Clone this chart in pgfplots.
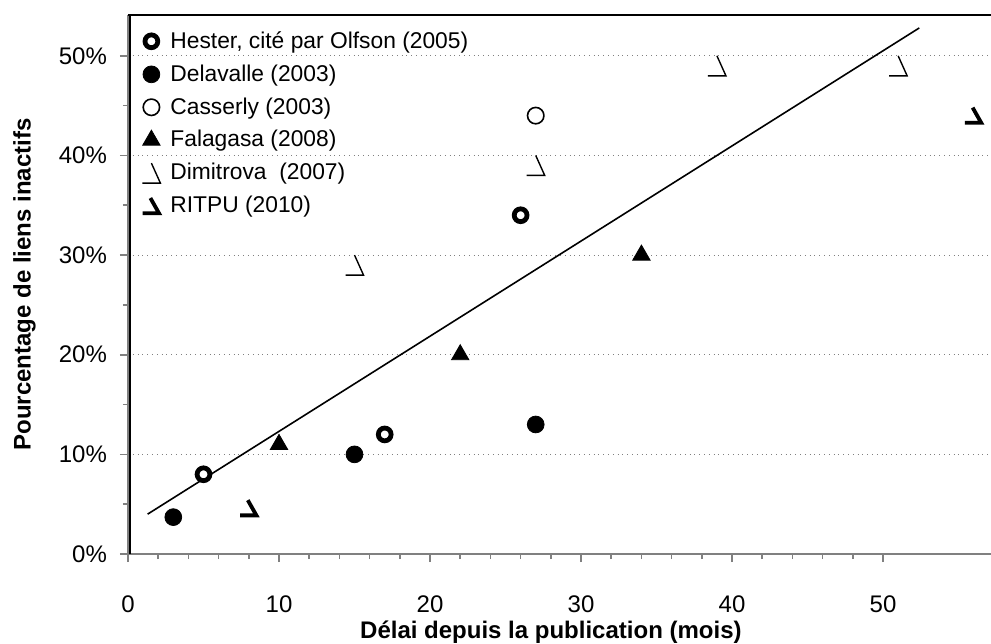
\documentclass[border=0pt]{standalone}
\usepackage{fontspec}
\setmainfont{Liberation Sans}
\usepackage{pgfplots}
\pgfplotsset{compat=1.18}

% Marks drawn like the reference: a slanted stroke and a foot
\pgfdeclareplotmark{dimi}{%
  \pgfpathmoveto{\pgfpoint{0pt}{5pt}}%
  \pgfpathlineto{\pgfpoint{4.5pt}{-5pt}}%
  \pgfpathlineto{\pgfpoint{-4.5pt}{-5pt}}%
  \pgfusepathqstroke}
\pgfdeclareplotmark{ritpu}{%
  \pgfpathmoveto{\pgfpoint{-0.5pt}{4pt}}%
  \pgfpathlineto{\pgfpoint{3.8pt}{-3.6pt}}%
  \pgfpathlineto{\pgfpoint{-4.4pt}{-3.6pt}}%
  \pgfusepathqstroke}

\definecolor{axgray}{RGB}{128,128,128}

\begin{document}
\begin{tikzpicture}
\begin{axis}[
  scale only axis,
  width=431.5pt, height=269.5pt,
  xmin=0, xmax=57.15,
  ymin=0, ymax=54.1,
  axis x line*=bottom,
  axis y line*=left,
  axis line style={axgray, line width=1pt},
  xtick={0,10,...,50},
  minor x tick num=4,
  ytick={0,10,...,50},
  minor y tick num=1,
  tick align=outside,
  tick style={axgray, line width=0.8pt},
  major tick length=4pt,
  minor tick length=2.5pt,
  ymajorgrids,
  major grid style={axgray, dotted, line width=0.6pt},
  yticklabel={\pgfmathprintnumber{\tick}\%},
  /pgf/number format/assume math mode=true,
  ticklabel style={font=\fontsize{12}{14}\selectfont},
  xticklabel style={yshift=-13.5pt},
  yticklabel style={xshift=-3pt},
  xlabel={Délai depuis la publication (mois)},
  ylabel={Pourcentage de liens inactifs},
  label style={font=\bfseries\fontsize{12}{14}\selectfont},
  xlabel style={at={(axis description cs:0.49,-0.1447)}, anchor=center},
  ylabel style={at={(axis description cs:-0.12,0.5)}, anchor=center},
  legend style={at={(0,1)}, anchor=north west, draw=none, fill=none,
    font=\fontsize{11.4}{13}\selectfont, row sep=2.7pt,
    xshift=4pt, yshift=-4pt,
    /tikz/every odd column/.append style={column sep=3pt}},
  legend cell align=left,
]
\addplot[only marks, mark=*, mark size=3.2pt,
  mark options={fill=white, draw=black, line width=2.4pt}]
  coordinates {(5,8) (17,12) (26,34)};
\addlegendentry{Hester, cité par Olfson (2005)}

\addplot[only marks, mark=*, mark size=4.2pt, black]
  coordinates {(3,3.7) (15,10) (27,13)};
\addlegendentry{Delavalle (2003)}

\addplot[only marks, mark=o, mark size=4.1pt,
  mark options={draw=black, line width=0.8pt}]
  coordinates {(27,44)};
\addlegendentry{Casserly (2003)}

\addplot[only marks, mark=triangle*, mark size=5pt, black]
  coordinates {(10,11) (22,20) (34,30)};
\addlegendentry{Falagasa (2008)}

\addplot[only marks, mark=dimi,
  mark options={draw=black, line width=0.7pt}]
  coordinates {(15,29) (27,39) (39,49) (51,49)};
\addlegendentry{Dimitrova\ \ (2007)}

\addplot[only marks, mark=ritpu,
  mark options={draw=black, line width=1.9pt}]
  coordinates {(8,4.6) (56,44)};
\addlegendentry{RITPU (2010)}

\addplot[black, line width=0.8pt, forget plot]
  coordinates {(1.3,4.0) (52.4,52.8)};

\draw[black, line width=1pt] (rel axis cs:0,1) -- (rel axis cs:1,1);
\draw[black, line width=1pt] ([xshift=1pt]rel axis cs:0,0) -- ([xshift=1pt]rel axis cs:0,1);
\end{axis}
\pgfresetboundingbox
\path[use as bounding box] ([shift={(-64pt,-44.5pt)}]current axis.south west)
  rectangle ([shift={(0pt,7.5pt)}]current axis.north east);
\end{tikzpicture}
\end{document}
